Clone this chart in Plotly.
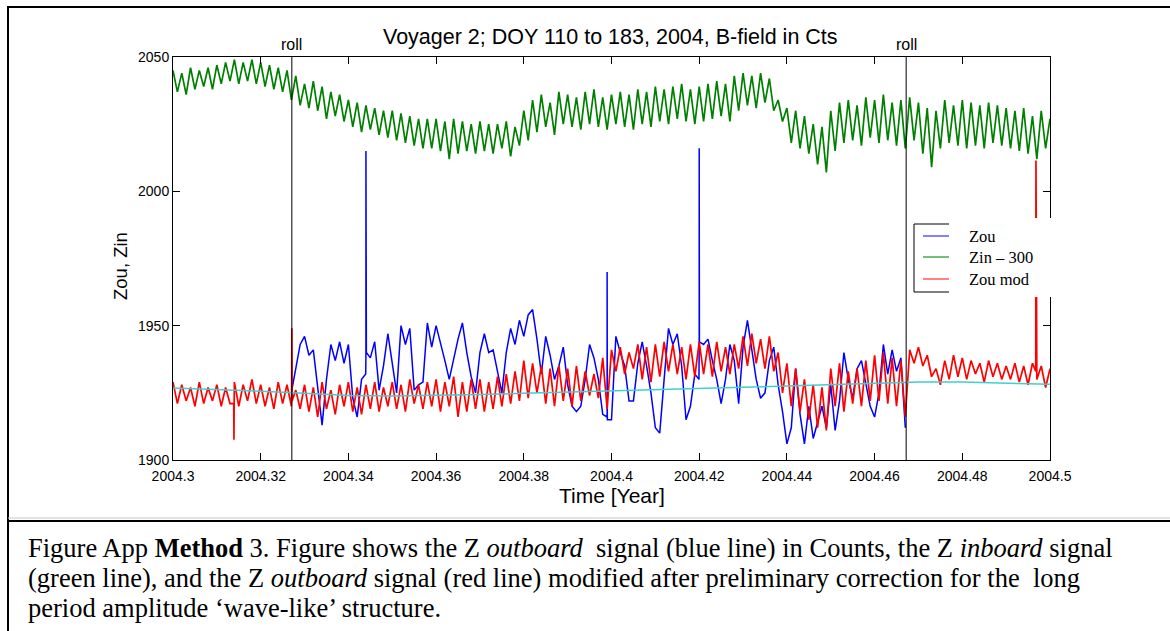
import numpy as np
import plotly.graph_objects as go

# ---------------- data ----------------
t_grid = [round(2004.3 + 0.001 * k, 4) for k in range(201)]

zin_minus_300 = [
    2045, 2037, 2044, 2036, 2046, 2038, 2045, 2039, 2046, 2038,
    2047, 2040, 2048, 2041, 2049, 2040, 2048, 2041, 2049, 2040,
    2048, 2039, 2047, 2038, 2046, 2037, 2045, 2034, 2043, 2032,
    2040, 2031, 2041, 2030, 2039, 2027, 2037, 2028, 2036, 2026,
    2034, 2024, 2033, 2022, 2032, 2023, 2031, 2021, 2030, 2020,
    2030, 2019, 2029, 2018, 2028, 2017, 2027, 2016, 2027, 2016,
    2027, 2015, 2026, 2012, 2027, 2014, 2026, 2015, 2025, 2014,
    2026, 2015, 2025, 2014, 2025, 2016, 2026, 2013, 2024, 2017,
    2030, 2019, 2034, 2022, 2036, 2024, 2033, 2021, 2037, 2025,
    2036, 2024, 2035, 2023, 2037, 2025, 2038, 2024, 2035, 2023,
    2036, 2025, 2037, 2024, 2036, 2023, 2038, 2025, 2037, 2024,
    2039, 2026, 2038, 2025, 2039, 2027, 2040, 2026, 2038, 2025,
    2039, 2026, 2040, 2027, 2041, 2028, 2040, 2026, 2043, 2030,
    2044, 2032, 2043, 2031, 2044, 2033, 2042, 2030, 2034, 2026,
    2031, 2018, 2030, 2016, 2028, 2014, 2025, 2010, 2024, 2007,
    2030, 2015, 2033, 2018, 2034, 2019, 2032, 2017, 2035, 2020,
    2034, 2018, 2036, 2019, 2033, 2017, 2034, 2016, 2035, 2019,
    2033, 2014, 2031, 2009, 2030, 2016, 2034, 2018, 2032, 2017,
    2034, 2016, 2033, 2017, 2032, 2016, 2033, 2018, 2032, 2017,
    2031, 2016, 2030, 2015, 2031, 2014, 2028, 2012, 2030, 2016, 2027,
]

zou_mod = [
    1929, 1921, 1928, 1922, 1927, 1920, 1929, 1921, 1927, 1922,
    1928, 1920, 1927, 1921, 1929, 1920, 1928, 1922, 1930, 1921,
    1928, 1920, 1927, 1919, 1929, 1921, 1928, 1920, 1926, 1919,
    1928, 1918, 1927, 1916, 1929, 1919, 1926, 1917, 1928, 1920,
    1929, 1918, 1927, 1917, 1928, 1919, 1929, 1918, 1927, 1920,
    1929, 1919, 1928, 1918, 1930, 1921, 1928, 1919, 1929, 1920,
    1930, 1918, 1929, 1920, 1931, 1916, 1929, 1918, 1930, 1919,
    1930, 1918, 1929, 1919, 1931, 1920, 1932, 1921, 1933, 1922,
    1937, 1923, 1936, 1925, 1935, 1921, 1934, 1920, 1935, 1922,
    1934, 1920, 1935, 1922, 1933, 1924, 1932, 1923, 1938, 1919,
    1941, 1933, 1942, 1932, 1940, 1934, 1943, 1930, 1942, 1929,
    1943, 1931, 1944, 1933, 1943, 1932, 1942, 1930, 1943, 1931,
    1944, 1932, 1943, 1931, 1944, 1933, 1942, 1932, 1943, 1934,
    1946, 1935, 1947, 1936, 1945, 1934, 1946, 1933, 1940, 1925,
    1936, 1920, 1934, 1918, 1930, 1915, 1928, 1912, 1927, 1911,
    1934, 1920, 1936, 1918, 1933, 1921, 1934, 1920, 1937, 1922,
    1939, 1922, 1940, 1921, 1938, 1920, 1937, 1916, 1941, 1936,
    1942, 1935, 1939, 1931, 1934, 1928, 1937, 1930, 1939, 1931,
    1938, 1930, 1937, 1932, 1936, 1929, 1937, 1931, 1936, 1930,
    1935, 1930, 1936, 1929, 1935, 1928, 1936, 1930, 1935, 1927, 1934,
]
zou_mod_spike_t = [2004.31385, 2004.3139, 2004.31395,
                   2004.32705, 2004.3271, 2004.32715,
                   2004.49675, 2004.4968, 2004.49685]
zou_mod_spike_v = [1921, 1907.5, 1922, 1924, 1949, 1922, 1933, 2011.5, 1930]

zou_start = 28  # Zou recorded between the two rolls only
zou = [
    1933.5, 1943, 1946, 1939, 1941, 1926, 1913, 1930, 1943, 1937,
    1944, 1936, 1943, 1923, 1916, 1930, 1940, 1938, 1944, 1926,
    1935, 1947, 1935, 1925, 1950, 1943, 1949, 1926, 1928, 1929,
    1951, 1942, 1950, 1944, 1937, 1930, 1938, 1945, 1951, 1940,
    1931, 1925, 1940, 1947, 1940, 1941, 1933, 1925, 1940, 1949,
    1943, 1952, 1946, 1954, 1956, 1945, 1932, 1946, 1939, 1930,
    1935, 1942, 1928, 1920, 1918, 1920, 1930, 1943, 1938, 1930,
    1917, 1916, 1915, 1946, 1940, 1935, 1922, 1922, 1936, 1944,
    1935, 1925, 1912, 1910, 1930, 1949, 1943, 1947, 1935, 1915,
    1920, 1932, 1944, 1943, 1945, 1937, 1930, 1921, 1930, 1943,
    1937, 1921, 1942, 1952, 1940, 1930, 1923, 1925, 1937, 1942,
    1928, 1918, 1906, 1912, 1934, 1917, 1906, 1920, 1908, 1914,
    1920, 1912, 1928, 1911, 1922, 1940, 1930, 1923, 1934, 1937,
    1928, 1920, 1916, 1925, 1943, 1932, 1941, 1933, 1938, 1912,
]
zou_spike_t = [2004.3271, 2004.34395, 2004.3440, 2004.34405, 2004.3441,
               2004.39895, 2004.3990, 2004.39905,
               2004.41995, 2004.4200, 2004.42005]
zou_spike_v = [1926, 1932, 2015, 1977, 1940, 1916, 1970, 1915, 1930, 2016, 1944]

fit_t = [2004.30, 2004.31, 2004.32, 2004.33, 2004.34, 2004.35, 2004.36,
         2004.37, 2004.38, 2004.39, 2004.40, 2004.41, 2004.42, 2004.43,
         2004.44, 2004.45, 2004.46, 2004.47, 2004.48, 2004.49, 2004.50]
fit_v = [1926.8, 1926.3, 1925.6, 1924.8, 1924.0, 1923.8, 1924.0,
         1924.4, 1924.8, 1925.3, 1925.8, 1926.3, 1926.7, 1927.1,
         1927.5, 1928.0, 1928.5, 1929.0, 1929.0, 1928.6, 1928.2]

roll_times = [2004.3271, 2004.4672]

x_tickvals = [2004.3, 2004.32, 2004.34, 2004.36, 2004.38, 2004.4,
              2004.42, 2004.44, 2004.46, 2004.48, 2004.5]
x_ticktext = ["2004.3", "2004.32", "2004.34", "2004.36", "2004.38", "2004.4",
              "2004.42", "2004.44", "2004.46", "2004.48", "2004.5"]
y_tickvals = [1900, 1950, 2000, 2050]

legend_labels = ["Zou", "Zin \u2013 300", "Zou mod"]


def merge(ts, vs, st, sv):
    pts = sorted(zip(list(ts) + list(st), list(vs) + list(sv)))
    return [p[0] for p in pts], [p[1] for p in pts]


zou_t, zou_v = merge(t_grid[zou_start:zou_start + len(zou)], zou, zou_spike_t, zou_spike_v)
red_t, red_v = merge(t_grid, zou_mod, zou_mod_spike_t, zou_mod_spike_v)

# ---------------- layout geometry ----------------
W, H = 1170, 631
L, R, T, B = 173, 1050, 57, 460


def px(x):
    return (x - L) / (R - L)


def py(y):
    return (B - y) / (B - T)


BLUE, GREEN, RED, CYAN = "#0000ff", "#008000", "#ff0000", "#3fcfcf"

fig = go.Figure()
fig.add_trace(go.Scatter(x=zou_t, y=zou_v, mode="lines",
                         line=dict(color=BLUE, width=1.5), showlegend=False))
fig.add_trace(go.Scatter(x=t_grid, y=zin_minus_300, mode="lines",
                         line=dict(color=GREEN, width=1.7), showlegend=False))
fig.add_trace(go.Scatter(x=red_t, y=red_v, mode="lines",
                         line=dict(color=RED, width=1.7), showlegend=False))
fig.add_trace(go.Scatter(x=fit_t, y=fit_v, mode="lines",
                         line=dict(color=CYAN, width=1.5), showlegend=False))

shapes = []
for rt in roll_times:
    shapes.append(dict(type="line", xref="x", yref="paper", x0=rt, x1=rt, y0=0, y1=1,
                       line=dict(color="black", width=1)))

# outer figure frame + caption separator
shapes += [
    dict(type="line", xref="paper", yref="paper", x0=px(8), x1=px(8), y0=py(6), y1=py(640),
         line=dict(color="black", width=2)),
    dict(type="line", xref="paper", yref="paper", x0=px(8), x1=px(1175), y0=py(7), y1=py(7),
         line=dict(color="black", width=2)),
    dict(type="line", xref="paper", yref="paper", x0=px(8), x1=px(1175), y0=py(518), y1=py(518),
         line=dict(color="#c8c8c8", width=1)),
    dict(type="line", xref="paper", yref="paper", x0=px(8), x1=px(1175), y0=py(521), y1=py(521),
         line=dict(color="black", width=2)),
]

# legend box (partly hidden, as in the reference)
shapes += [
    dict(type="rect", xref="paper", yref="paper", x0=px(913), x1=px(1175), y0=py(297), y1=py(218),
         fillcolor="white", line=dict(width=0), layer="above"),
    dict(type="line", xref="paper", yref="paper", x0=px(914), x1=px(914), y0=py(292), y1=py(224),
         line=dict(color="black", width=1), layer="above"),
    dict(type="line", xref="paper", yref="paper", x0=px(914), x1=px(949), y0=py(224), y1=py(224),
         line=dict(color="black", width=1), layer="above"),
    dict(type="line", xref="paper", yref="paper", x0=px(914), x1=px(949), y0=py(292), y1=py(292),
         line=dict(color="black", width=1), layer="above"),
]
leg_cols = ["#5a5aff", "#4ca64c", "#ff5a5a"]
leg_y = [236, 257, 279]
for c, yy in zip(leg_cols, leg_y):
    shapes.append(dict(type="line", xref="paper", yref="paper", x0=px(923), x1=px(949),
                       y0=py(yy), y1=py(yy), line=dict(color=c, width=1.5), layer="above"))

SANS = "Liberation Sans, Arial, sans-serif"
SERIF = "Liberation Serif, Times New Roman, serif"

ann = []
ann.append(dict(text="Voyager 2; DOY 110 to 183, 2004, B-field in Cts", x=px(610), y=py(37),
                xref="paper", yref="paper", showarrow=False, xanchor="center", yanchor="middle",
                font=dict(family=SANS, size=21.5, color="black")))
for rt in roll_times:
    ann.append(dict(text="roll", x=rt, y=py(45), xref="x", yref="paper", showarrow=False,
                    xanchor="center", yanchor="middle",
                    font=dict(family=SANS, size=16, color="black")))
for lab, yy in zip(legend_labels, leg_y):
    ann.append(dict(text=lab, x=px(967), y=py(yy), xref="paper", yref="paper", showarrow=False,
                    xanchor="left", yanchor="middle",
                    font=dict(family=SERIF, size=16.5, color="black")))

# axis titles
ann.append(dict(text="Zou, Zin", x=px(120), y=py(266), xref="paper", yref="paper",
                showarrow=False, textangle=-90, xanchor="center", yanchor="middle",
                font=dict(family=SANS, size=18.5, color="black")))
ann.append(dict(text="Time [Year]", x=px(612), y=py(495), xref="paper", yref="paper",
                showarrow=False, xanchor="center", yanchor="middle",
                font=dict(family=SANS, size=21, color="black")))

caption = [
    "Figure App <b>Method</b> 3. Figure shows the Z <i>outboard</i>\u00a0 signal (blue line) in Counts, the Z <i>inboard</i> signal",
    "(green line), and the Z <i>outboard</i> signal (red line) modified after preliminary correction for the\u00a0 long",
    "period amplitude \u2018wave-like\u2019 structure.",
]
for line, yy in zip(caption, [548, 578, 608]):
    ann.append(dict(text=line, x=px(26), y=py(yy), xref="paper", yref="paper", showarrow=False,
                    xanchor="left", yanchor="middle",
                    font=dict(family=SERIF, size=26.5, color="black")))

fig.update_layout(
    width=W, height=H,
    margin=dict(l=L, r=W - R, t=T, b=H - B, pad=0),
    paper_bgcolor="white", plot_bgcolor="white",
    shapes=shapes, annotations=ann,
    xaxis=dict(range=[2004.3, 2004.5], tickvals=x_tickvals, ticktext=x_ticktext,
               showgrid=False, zeroline=False, showline=True, linecolor="black", linewidth=1,
               mirror="ticks", ticks="inside", ticklen=7, tickcolor="black", tickwidth=1,
               ticklabelstandoff=3,
               tickfont=dict(family=SANS, size=14, color="black")),
    yaxis=dict(range=[1900, 2050], tickvals=y_tickvals,
               showgrid=False, zeroline=False, showline=True, linecolor="black", linewidth=1,
               mirror="ticks", ticks="inside", ticklen=7, tickcolor="black", tickwidth=1,
               tickfont=dict(family=SANS, size=14, color="black")),
)

fig.write_html("out.html")
